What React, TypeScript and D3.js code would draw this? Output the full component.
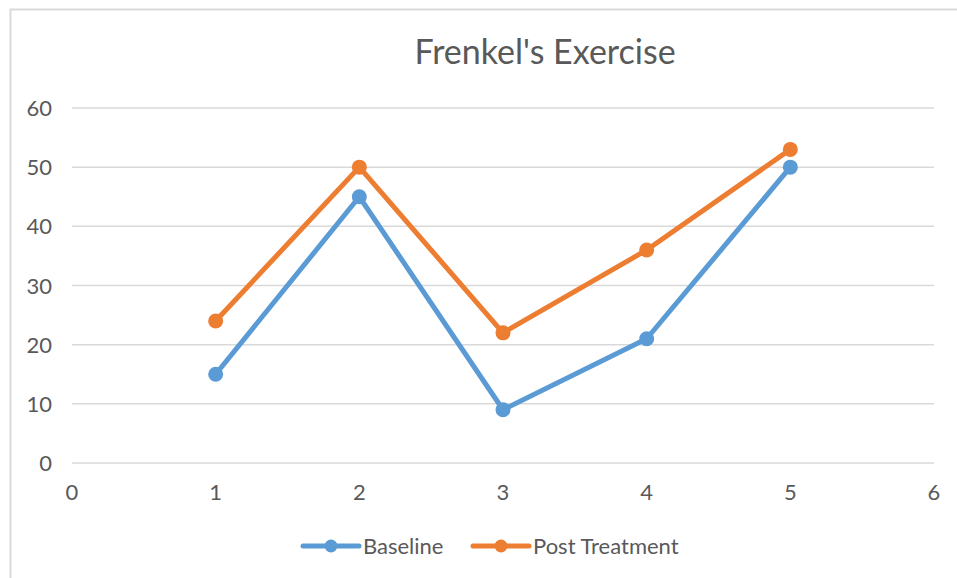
import * as d3 from 'd3';
import React from 'react';

const xTicks = [0, 1, 2, 3, 4, 5, 6];
const yTicks = [0, 10, 20, 30, 40, 50, 60];
const sessions = [1, 2, 3, 4, 5];
const baseline = [15, 45, 9, 21, 50];
const postTreatment = [24, 50, 22, 36, 53];
const seriesNames = ['Baseline', 'Post Treatment'];
const colors = ['#5b9bd5', '#ed7d31'];

const W = 957;
const H = 578;
const font = 'Lato, "Open Sans", sans-serif';

export default function App() {
  const ref = React.useRef<SVGSVGElement>(null);

  React.useEffect(() => {
    if (!ref.current) return;
    const svg = d3.select(ref.current);
    svg.selectAll('*').remove();

    // chart frame (right/bottom edges fall outside the picture)
    svg.append('rect').attr('x', 10.5).attr('y', 9.5).attr('width', 1000).attr('height', 1000)
      .attr('fill', '#fff').attr('stroke', '#d9d9d9').attr('stroke-width', 2);

    const x = d3.scaleLinear().domain([0, 6]).range([72, 934]);
    const y = d3.scaleLinear().domain([0, 60]).range([463, 108]);

    svg.append('text').attr('x', 545).attr('y', 64).attr('text-anchor', 'middle')
      .attr('font-family', font).attr('font-size', 34).attr('fill', '#595959').text("Frenkel's Exercise");

    // grid
    svg.append('g').selectAll('line').data(yTicks).enter().append('line')
      .attr('x1', x(0)).attr('x2', x(6)).attr('y1', (d) => y(d)).attr('y2', (d) => y(d))
      .attr('stroke', '#d9d9d9').attr('stroke-width', 1.5);

    svg.append('g').selectAll('text').data(yTicks).enter().append('text')
      .attr('x', 52).attr('y', (d) => y(d) + 8).attr('text-anchor', 'end')
      .attr('font-family', font).attr('font-size', 22).attr('fill', '#595959').text((d) => d);

    svg.append('g').selectAll('text').data(xTicks).enter().append('text')
      .attr('x', (d) => x(d)).attr('y', 500).attr('text-anchor', 'middle')
      .attr('font-family', font).attr('font-size', 22).attr('fill', '#595959').text((d) => d);

    const line = d3.line<number>().x((_, i) => x(sessions[i])).y((d) => y(d));
    [baseline, postTreatment].forEach((vals, si) => {
      const g = svg.append('g');
      g.append('path').datum(vals).attr('fill', 'none').attr('stroke', colors[si])
        .attr('stroke-width', 5).attr('stroke-linejoin', 'round').attr('d', line);
      g.selectAll('circle').data(vals).enter().append('circle')
        .attr('cx', (_, i) => x(sessions[i])).attr('cy', (d) => y(d)).attr('r', 7.5).attr('fill', colors[si]);
    });

    // legend
    const legendX = [303, 473];
    seriesNames.forEach((name, i) => {
      const lg = svg.append('g').attr('transform', `translate(${legendX[i]},546)`);
      lg.append('line').attr('x1', 0).attr('x2', 56).attr('stroke', colors[i]).attr('stroke-width', 5).attr('stroke-linecap', 'round');
      lg.append('circle').attr('cx', 28).attr('r', 6.5).attr('fill', colors[i]);
      lg.append('text').attr('x', 60).attr('y', 7.5).attr('font-family', font).attr('font-size', 22)
        .attr('fill', '#595959').text(name);
    });
  }, []);

  return <svg ref={ref} width={W} height={H} style={{ position: 'absolute', left: 0, top: 0, background: '#fff' }} />;
}
